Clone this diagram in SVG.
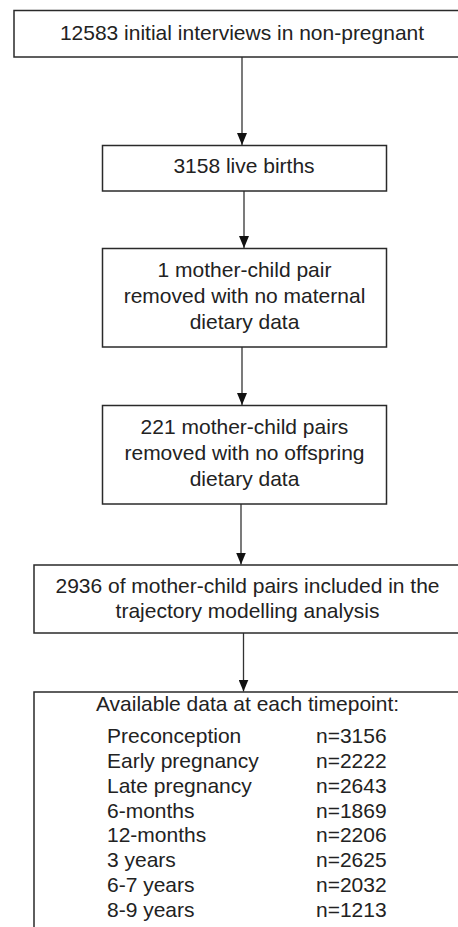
<svg xmlns="http://www.w3.org/2000/svg" width="458" height="927" viewBox="0 0 458 927">
  <defs>
    <style>
      .box { fill: #ffffff; stroke: #2a2a2a; stroke-width: 1.5; }
      .txt { font-family: "Liberation Sans", Arial, sans-serif; font-size: 21px; fill: #222222; }
      .mid { text-anchor: middle; }
      .edge { stroke: #333333; stroke-width: 1.3; fill: none; }
    </style>
    <marker id="arrow" viewBox="0 0 12 10" refX="12" refY="5" markerWidth="12" markerHeight="10" markerUnits="userSpaceOnUse" orient="auto">
      <path d="M0,0 L12,5 L0,10 z" fill="#111111"/>
    </marker>
  </defs>
  <rect x="0" y="0" width="458" height="927" fill="#ffffff"/>

  <g id="connectors">
    <line class="edge" x1="242" y1="57" x2="242" y2="145" marker-end="url(#arrow)"/>
    <line class="edge" x1="244" y1="191" x2="244" y2="248" marker-end="url(#arrow)"/>
    <line class="edge" x1="242" y1="347" x2="242" y2="405" marker-end="url(#arrow)"/>
    <line class="edge" x1="241" y1="504" x2="241" y2="564.5" marker-end="url(#arrow)"/>
    <line class="edge" x1="243.5" y1="633" x2="243.5" y2="691.5" marker-end="url(#arrow)"/>
  </g>

  <g id="node1">
    <rect class="box" x="14" y="10.5" width="456" height="46.5"/>
    <text class="txt mid" x="242" y="39.5">12583 initial interviews in non-pregnant</text>
  </g>

  <g id="node2">
    <rect class="box" x="102.5" y="145.5" width="284" height="45.5"/>
    <text class="txt mid" x="244" y="173">3158 live births</text>
  </g>

  <g id="node3">
    <rect class="box" x="102.5" y="248.5" width="284" height="98.5"/>
    <text class="txt mid" x="244.5" y="277">1 mother-child pair</text>
    <text class="txt mid" x="244.5" y="303">removed with no maternal</text>
    <text class="txt mid" x="244.5" y="329">dietary data</text>
  </g>

  <g id="node4">
    <rect class="box" x="102.5" y="405.5" width="284" height="98.5"/>
    <text class="txt mid" x="244.5" y="434">221 mother-child pairs</text>
    <text class="txt mid" x="244.5" y="460">removed with no offspring</text>
    <text class="txt mid" x="244.5" y="486">dietary data</text>
  </g>

  <g id="node5">
    <rect class="box" x="34" y="565" width="427" height="68"/>
    <text class="txt mid" x="247.5" y="593">2936 of mother-child pairs included in the</text>
    <text class="txt mid" x="247.5" y="618">trajectory modelling analysis</text>
  </g>

  <g id="node6">
    <rect class="box" x="34" y="692" width="427" height="260"/>
    <text class="txt mid" x="247.5" y="711">Available data at each timepoint:</text>
    <text class="txt" x="107" y="743">Preconception</text>
    <text class="txt" x="316" y="743">n=3156</text>
    <text class="txt" x="107" y="768">Early pregnancy</text>
    <text class="txt" x="316" y="768">n=2222</text>
    <text class="txt" x="107" y="793">Late pregnancy</text>
    <text class="txt" x="316" y="793">n=2643</text>
    <text class="txt" x="107" y="818">6-months</text>
    <text class="txt" x="316" y="818">n=1869</text>
    <text class="txt" x="107" y="842">12-months</text>
    <text class="txt" x="316" y="842">n=2206</text>
    <text class="txt" x="107" y="867">3 years</text>
    <text class="txt" x="316" y="867">n=2625</text>
    <text class="txt" x="107" y="892">6-7 years</text>
    <text class="txt" x="316" y="892">n=2032</text>
    <text class="txt" x="107" y="917">8-9 years</text>
    <text class="txt" x="316" y="917">n=1213</text>
  </g>
</svg>
